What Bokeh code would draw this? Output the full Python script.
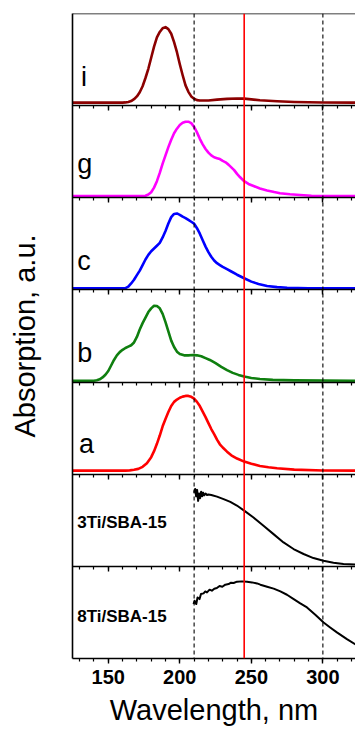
from bokeh.plotting import figure
from bokeh.models import LinearAxis, Span, Label, SingleIntervalTicker, FixedTicker, Range1d
from bokeh.embed import file_html
from bokeh.resources import INLINE

# ---------------- data (normalised absorption, fraction of panel height) ----------------
i_x = [125, 160, 162, 164, 166, 168, 170, 172, 174, 176, 178, 180, 182, 184, 186, 188, 190, 192, 194, 196,
       198, 200, 202, 204, 206, 208, 210, 212, 214, 220, 226, 233, 240, 245, 250, 256, 268, 280, 300, 323]
i_y = [0.033, 0.033, 0.035, 0.04, 0.05, 0.07, 0.10, 0.145, 0.21, 0.30, 0.40, 0.52, 0.64, 0.74, 0.80, 0.84, 0.852,
       0.83, 0.78, 0.69, 0.58, 0.45, 0.33, 0.22, 0.15, 0.10, 0.075, 0.06, 0.055, 0.056, 0.065, 0.073, 0.078,
       0.076, 0.068, 0.058, 0.047, 0.04, 0.034, 0.033]

g_x = [125, 174, 176, 178, 180, 182, 184, 186, 188, 190, 192, 194, 196, 198, 200, 202, 204, 206, 208, 210,
       212, 214, 216, 218, 220, 222, 224, 226, 228, 230, 232, 234, 236, 238, 240, 242, 245, 248, 252, 256,
       261, 266, 270, 277, 284, 292, 300, 323]
g_y = [0.018, 0.018, 0.022, 0.035, 0.06, 0.11, 0.18, 0.27, 0.37, 0.46, 0.55, 0.63, 0.70, 0.75, 0.79, 0.815,
       0.826, 0.826, 0.81, 0.77, 0.71, 0.64, 0.58, 0.53, 0.49, 0.46, 0.44, 0.43, 0.42, 0.40, 0.385, 0.36, 0.33,
       0.30, 0.26, 0.225, 0.18, 0.15, 0.125, 0.10, 0.08, 0.062, 0.05, 0.038, 0.03, 0.022, 0.018, 0.018]

c_x = [125, 160, 162, 164, 166, 168, 170, 172, 174, 176, 178, 180, 182, 184, 186, 188, 190, 192, 194, 196,
       198, 200, 202, 204, 206, 208, 210, 212, 214, 216, 218, 220, 222, 224, 226, 228, 230, 233, 236, 240,
       245, 250, 255, 261, 268, 275, 290, 323]
c_y = [0.018, 0.018, 0.02, 0.035, 0.07, 0.11, 0.16, 0.21, 0.27, 0.33, 0.38, 0.42, 0.45, 0.48, 0.51, 0.57,
       0.64, 0.72, 0.79, 0.825, 0.83, 0.815, 0.795, 0.78, 0.76, 0.74, 0.72, 0.67, 0.61, 0.54, 0.47, 0.41,
       0.36, 0.32, 0.29, 0.27, 0.25, 0.225, 0.20, 0.165, 0.127, 0.09, 0.065, 0.043, 0.03, 0.024, 0.019, 0.018]

b_x = [125, 140, 142, 144, 146, 148, 150, 152, 154, 156, 158, 160, 162, 164, 166, 168, 170, 172, 174, 176,
       178, 180, 182, 184, 186, 188, 190, 192, 194, 196, 198, 200, 203, 206, 209, 212, 215, 218, 221, 225,
       229, 233, 237, 241, 245, 250, 256, 265, 280, 323]
b_y = [0.015, 0.015, 0.02, 0.03, 0.05, 0.08, 0.12, 0.18, 0.24, 0.29, 0.325, 0.35, 0.37, 0.385, 0.40, 0.43,
       0.49, 0.57, 0.64, 0.70, 0.76, 0.80, 0.828, 0.825, 0.80, 0.74, 0.65, 0.55, 0.45, 0.38, 0.33, 0.305,
       0.29, 0.29, 0.293, 0.29, 0.28, 0.26, 0.24, 0.205, 0.165, 0.13, 0.10, 0.078, 0.06, 0.045, 0.033,
       0.024, 0.018, 0.015]

a_x = [125, 162, 165, 168, 171, 174, 177, 180, 182, 184, 186, 188, 190, 192, 194, 196, 198, 200, 202, 204,
       206, 208, 210, 212, 214, 216, 218, 220, 222, 224, 226, 228, 230, 233, 236, 240, 245, 250, 256, 262,
       268, 280, 300, 323]
a_y = [0.039, 0.039, 0.042, 0.048, 0.058, 0.08, 0.12, 0.185, 0.25, 0.33, 0.42, 0.52, 0.60, 0.675, 0.74,
       0.785, 0.81, 0.83, 0.842, 0.85, 0.85, 0.84, 0.82, 0.785, 0.74, 0.68, 0.62, 0.555, 0.49, 0.435, 0.375,
       0.325, 0.29, 0.245, 0.205, 0.17, 0.137, 0.113, 0.09, 0.075, 0.065, 0.05, 0.04, 0.039]

ti3_x = [210, 210.7, 211.4, 212.1, 212.8, 213.5, 214.2, 214.9, 215.6, 216.3, 217, 218, 219, 220, 222, 226,
         230.6, 235.3, 239.9, 245.7, 251.5, 258.5, 265.5, 272.5, 279.5, 286.5, 293.4, 300.4, 307.4, 314.4, 323]
ti3_y = [0.80, 0.84, 0.76, 0.83, 0.71, 0.79, 0.74, 0.81, 0.76, 0.80, 0.77, 0.79, 0.775, 0.78, 0.775, 0.757,
         0.73, 0.70, 0.66, 0.597, 0.53, 0.44, 0.35, 0.26, 0.188, 0.134, 0.09, 0.061, 0.039, 0.025, 0.021]

ti8_x = [209.6, 210.3, 211.5, 212.4, 213.8, 214.8, 216.6, 217.8, 219.0, 220.8, 222.4, 224.1, 225.9, 227.8,
         229.7, 231.8, 234.1, 235.8, 237.6, 240.0, 243.5, 247.0, 250.5, 254.0, 256.3, 261.0, 265.6, 270.3,
         274.9, 279.6, 284.2, 288.9, 294.7, 300.5, 305.1, 309.8, 316.8, 323]
ti8_y = [0.591, 0.627, 0.591, 0.663, 0.645, 0.70, 0.707, 0.728, 0.717, 0.747, 0.736, 0.758, 0.765, 0.787,
         0.779, 0.801, 0.808, 0.823, 0.819, 0.834, 0.837, 0.834, 0.826, 0.815, 0.801, 0.779, 0.758, 0.728,
         0.692, 0.645, 0.598, 0.554, 0.475, 0.391, 0.337, 0.283, 0.21, 0.15]

# panels from bottom to top
series_x = [ti8_x, ti3_x, a_x, b_x, c_x, g_x, i_x]
series_y = [ti8_y, ti3_y, a_y, b_y, c_y, g_y, i_y]
series_colors = ["black", "black", "#ff0000", "#0f7f0f", "#0000ff", "#ff00ff", "#8b0000"]
series_widths = [2, 2, 2.6, 2.6, 2.6, 2.6, 2.6]
panel_labels = ["8Ti/SBA-15", "3Ti/SBA-15", "a", "b", "c", "g", "i"]
label_pos = [0.46, 0.475, 0.33, 0.32, 0.315, 0.365, 0.31]
label_x = [128.3, 128.3, 129.5, 128.3, 128.3, 128.3, 131.0]

dashed_lines = [210, 300]
red_line = 245
x_title = "Wavelength, nm"
y_title = "Absorption, a.u."

FONT = "Liberation Sans"
n_panels = len(series_x)

p = figure(width=355, height=730, output_backend="svg", toolbar_location=None,
           x_range=Range1d(125, 322.8), y_range=Range1d(0, n_panels),
           min_border_left=72, min_border_right=0, min_border_top=13, min_border_bottom=72,
           x_axis_label=x_title, y_axis_label=y_title)
p.outline_line_color = None
p.grid.visible = False
p.background_fill_color = "white"
p.border_fill_color = "white"

AX_W = 1.6
xa = p.xaxis[0]
xa.ticker = SingleIntervalTicker(interval=50, num_minor_ticks=5)
xa.major_tick_out = 5
xa.major_tick_in = 0
xa.minor_tick_out = 3
xa.minor_tick_in = 0
xa.axis_line_width = AX_W
xa.major_tick_line_width = 1.4
xa.minor_tick_line_width = 1.2
xa.major_label_text_font = FONT
xa.major_label_text_font_style = "bold"
xa.major_label_text_font_size = "20px"
xa.major_label_text_color = "black"
xa.major_label_standoff = 6
xa.axis_label_text_font = FONT
xa.axis_label_text_font_style = "normal"
xa.axis_label_text_font_size = "29px"
xa.axis_label_text_color = "black"
xa.axis_label_standoff = 7

ya = p.yaxis[0]
ya.ticker = FixedTicker(ticks=[])
ya.major_tick_out = 0
ya.major_tick_in = 0
ya.minor_tick_out = 0
ya.minor_tick_in = 0
ya.axis_line_width = AX_W
ya.axis_label_text_font = FONT
ya.axis_label_text_font_style = "normal"
ya.axis_label_text_font_size = "29px"
ya.axis_label_text_color = "black"
ya.axis_label_standoff = 32

# separators between panels (ticks pointing down into the lower panel)
for k in range(1, n_panels + 1):
    ax = LinearAxis(fixed_location=k, ticker=SingleIntervalTicker(interval=50, num_minor_ticks=5),
                    major_tick_out=5 if k < n_panels else 0, major_tick_in=0,
                    minor_tick_out=3 if k < n_panels else 0, minor_tick_in=0,
                    axis_line_width=AX_W, major_tick_line_width=1.4, minor_tick_line_width=1.2,
                    major_label_text_font_size="0px", major_label_text_alpha=0)
    p.add_layout(ax, "below")

for loc in dashed_lines:
    p.add_layout(Span(location=loc, dimension="height", line_color="black", line_dash="4 3", line_width=1.1))
p.add_layout(Span(location=red_line, dimension="height", line_color="#ff0000", line_width=1.6))

for k in range(n_panels):
    ys = [v + k for v in series_y[k]]
    p.line(series_x[k], ys, line_color=series_colors[k], line_width=series_widths[k], line_join="round")
    is_sample = k < 2
    p.add_layout(Label(x=label_x[k], y=k + label_pos[k], text=panel_labels[k], text_font=FONT,
                       text_font_size="17px" if is_sample else "27px",
                       text_font_style="bold" if is_sample else "normal",
                       text_baseline="alphabetic", text_color="black"))

open("out.html", "w").write(file_html(p, INLINE))
